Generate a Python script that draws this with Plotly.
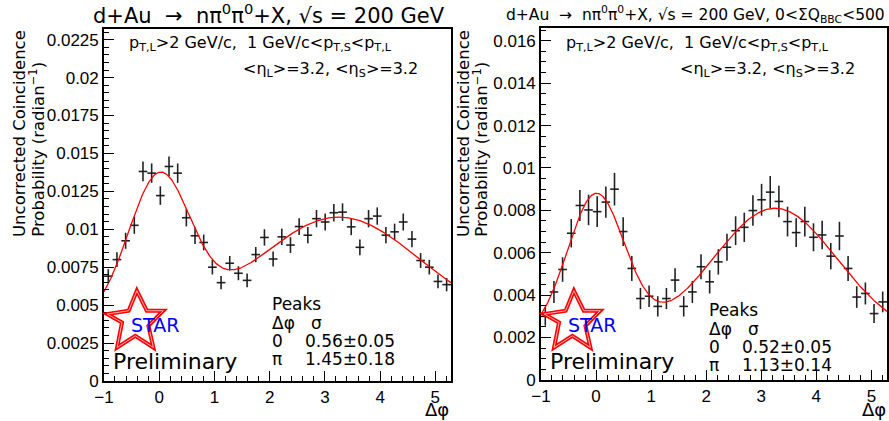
import numpy as np
import plotly.graph_objects as go

W, H = 889, 421
H_MAP = 410.0   # effective pixel height used to place paper-coordinate items
DX_LEFT = -10   # correction for left-anchored text boxes

# ---------------- data ----------------
N_BINS = 40
DPHI_LO, DPHI_HI = -1.0, 2 * np.pi - 1.0
edges = np.linspace(DPHI_LO, DPHI_HI, N_BINS + 1)
dphi = 0.5 * (edges[:-1] + edges[1:])
half_bin = 0.5 * (edges[1] - edges[0])

left_prob = [0.00691, 0.00800, 0.00924, 0.01026, 0.01381, 0.01370, 0.01222, 0.01414,
             0.01370, 0.01076, 0.00957, 0.00913, 0.00750, 0.00648, 0.00776, 0.00710,
             0.00663, 0.00833, 0.00946, 0.00804, 0.00950, 0.00896, 0.01018, 0.00961,
             0.01070, 0.01048, 0.01109, 0.01113, 0.01016, 0.00881, 0.01070, 0.01087,
             0.00961, 0.00983, 0.01048, 0.00935, 0.00794, 0.00750, 0.00656, 0.00635]
left_err = [0.00046, 0.00049, 0.00053, 0.00056, 0.00065, 0.00064, 0.00061, 0.00065,
            0.00064, 0.00057, 0.00054, 0.00052, 0.00048, 0.00044, 0.00048, 0.00046,
            0.00045, 0.00050, 0.00054, 0.00049, 0.00054, 0.00052, 0.00055, 0.00054,
            0.00057, 0.00056, 0.00058, 0.00058, 0.00055, 0.00052, 0.00057, 0.00057,
            0.00054, 0.00054, 0.00056, 0.00053, 0.00049, 0.00048, 0.00045, 0.00044]

right_prob = [0.00300, 0.00415, 0.00521, 0.00692, 0.00823, 0.00802, 0.00794, 0.00839,
              0.00900, 0.00700, 0.00526, 0.00384, 0.00395, 0.00347, 0.00384, 0.00471,
              0.00347, 0.00415, 0.00534, 0.00463, 0.00557, 0.00626, 0.00704, 0.00720,
              0.00799, 0.00850, 0.00886, 0.00842, 0.00747, 0.00695, 0.00747, 0.00673,
              0.00684, 0.00584, 0.00679, 0.00526, 0.00391, 0.00408, 0.00313, 0.00368]
right_err = [0.00044, 0.00052, 0.00058, 0.00067, 0.00073, 0.00072, 0.00072, 0.00074,
             0.00077, 0.00068, 0.00059, 0.00050, 0.00051, 0.00048, 0.00050, 0.00056,
             0.00048, 0.00052, 0.00059, 0.00055, 0.00060, 0.00064, 0.00068, 0.00069,
             0.00072, 0.00075, 0.00076, 0.00074, 0.00070, 0.00068, 0.00070, 0.00066,
             0.00067, 0.00062, 0.00067, 0.00059, 0.00051, 0.00052, 0.00045, 0.00049]

# fit parameters (pedestal + near-side and away-side gaussians)
left_fit = dict(base=0.0039, a_near=0.0093, mu_near=0.0, sig_near=0.56,
                a_away=0.0069, mu_away=3.25, sig_away=1.45)
right_fit = dict(base=0.00203, a_near=0.00668, mu_near=0.0, sig_near=0.52,
                 a_away=0.00607, mu_away=3.25, sig_away=1.13)

left_yticks = [0, 0.0025, 0.005, 0.0075, 0.01, 0.0125, 0.015, 0.0175, 0.02, 0.0225]
left_yticktext = ["0", "0.0025", "0.005", "0.0075", "0.01", "0.0125", "0.015", "0.0175", "0.02", "0.0225"]
right_yticks = [0, 0.002, 0.004, 0.006, 0.008, 0.01, 0.012, 0.014, 0.016]
right_yticktext = ["0", "0.002", "0.004", "0.006", "0.008", "0.01", "0.012", "0.014", "0.016"]
xticks = [-1, 0, 1, 2, 3, 4, 5]
xticktext = ["\u22121", "0", "1", "2", "3", "4", "5"]

left_peaks = [("0", "0.56\u00b10.05"), ("\u03c0", "1.45\u00b10.18")]
right_peaks = [("0", "0.52\u00b10.05"), ("\u03c0", "1.13\u00b10.14")]

# ---------------- helpers ----------------
TXT = "DejaVu Sans"
TICK = "Liberation Sans"


def X(px):
    return px / W


def Y(py):
    return 1 - py / H_MAP


def fitfunc(x, p):
    return (p["base"]
            + p["a_near"] * np.exp(-0.5 * ((x - p["mu_near"]) / p["sig_near"]) ** 2)
            + p["a_away"] * np.exp(-0.5 * ((x - p["mu_away"]) / p["sig_away"]) ** 2))


xfit = np.linspace(DPHI_LO, DPHI_HI, 500)

fig = go.Figure()
for (prob, err, fitp, xa, ya) in [(left_prob, left_err, left_fit, "x", "y"),
                                   (right_prob, right_err, right_fit, "x2", "y2")]:
    fig.add_trace(go.Scatter(
        x=dphi, y=prob, mode="markers", xaxis=xa, yaxis=ya,
        marker=dict(size=1, color="#111"),
        error_y=dict(type="data", array=err, width=0, thickness=1.6, color="#222"),
        error_x=dict(type="constant", value=half_bin, width=0, thickness=1.6, color="#222"),
        showlegend=False, hoverinfo="skip"))
    fig.add_trace(go.Scatter(
        x=xfit, y=fitfunc(xfit, fitp), mode="lines", xaxis=xa, yaxis=ya,
        line=dict(color="red", width=1.3), showlegend=False, hoverinfo="skip"))

axis_common = dict(showline=True, linecolor="black", linewidth=1.5, mirror=True,
                   ticks="inside", ticklen=10, tickwidth=1.2, tickcolor="black",
                   showgrid=False, zeroline=False,
                   tickfont=dict(family=TICK, size=17, color="black"))

xaxis_common = dict(axis_common, range=[DPHI_LO, DPHI_HI], tickmode="array",
                    tickvals=xticks, ticktext=xticktext,
                    minor=dict(ticks="inside", ticklen=5, tickwidth=1, tickcolor="black",
                               tick0=-1, dtick=0.2, showgrid=False))

fig.update_layout(
    width=W, height=H, margin=dict(l=0, r=0, t=0, b=0),
    paper_bgcolor="white", plot_bgcolor="white",
    xaxis=dict(xaxis_common, domain=[X(95), X(446)], anchor="y"),
    yaxis=dict(axis_common, domain=[Y(380), Y(29)], anchor="x", range=[0, 0.0232],
               tickmode="array", tickvals=left_yticks, ticktext=left_yticktext,
               minor=dict(ticks="inside", ticklen=5, tickwidth=1, tickcolor="black",
                          tick0=0, dtick=0.0005, showgrid=False)),
    xaxis2=dict(xaxis_common, domain=[X(537), X(887)], anchor="y2"),
    yaxis2=dict(axis_common, domain=[Y(379), Y(28)], anchor="x2", range=[0, 0.0166],
                tickmode="array", tickvals=right_yticks, ticktext=right_yticktext,
                minor=dict(ticks="inside", ticklen=5, tickwidth=1, tickcolor="black",
                           tick0=0, dtick=0.0005, showgrid=False)),
)

anns = []


def ann(text, px, py, size, xanchor="left", yanchor="middle", color="black",
        family=TXT, angle=0):
    if xanchor == "left" or angle != 0:
        px = px + DX_LEFT
    anns.append(dict(text=text, x=X(px), y=Y(py), xref="paper", yref="paper",
                     xanchor=xanchor, yanchor=yanchor, showarrow=False,
                     textangle=angle, font=dict(family=family, size=size, color=color)))


title_main = "d+Au  \u2192  n\u03c0<sup>0</sup>\u03c0<sup>0</sup>+X, \u221as = 200 GeV"
ann(title_main, 92, 14, 21)
ann(title_main + ", 0&lt;\u03a3Q<sub>BBC</sub>&lt;500", 887, 14, 15.5, xanchor="right")

line1 = ("p<sub>T,L</sub>&gt;2 GeV/c,  1 GeV/c&lt;p<sub>T,S</sub>&lt;p<sub>T,L</sub>")
line2 = "&lt;\u03b7<sub>L</sub>&gt;=3.2, &lt;\u03b7<sub>S</sub>&gt;=3.2"

for off, peaks, pk_y in [(0, left_peaks, 303), (442, right_peaks, 309)]:
    ann(line1, 128 + off, 43, 16)
    ann(line2, 415 + off, 69, 16, xanchor="right")
    ann("Peaks", 273 + off, pk_y, 17)
    ann("\u0394\u03c6", 273 + off, pk_y + 19, 17)
    ann("\u03c3", 312 + off, pk_y + 19, 17)
    for k, (pos, sig) in enumerate(peaks):
        ann(pos, 273 + off, pk_y + 37 + 18 * k, 17)
        ann(sig, 306 + off, pk_y + 37 + 18 * k, 17)
    ann("STAR", 130 + off, 324, 19, color="#0000ff")
    ann("Preliminary", 112 + off, 361, 22)
    ann("\u0394\u03c6", 446 + off, 409, 18, xanchor="right")

# y-axis titles (two lines, rotated)
for x1, x2 in [(19, 37), (468, 486)]:
    ann("Uncorrected Coincidence", x1, 238, 16.5, xanchor="center", yanchor="bottom", angle=-90)
    ann("Probability (radian<sup>\u22121</sup>)", x2, 238, 16.5, xanchor="center",
        yanchor="bottom", angle=-90)

fig.update_layout(annotations=anns)

# STAR logo star outline
star_pts = [(128.3, 290), (138.3, 310), (155, 310), (140, 325), (145, 346.7),
            (126.7, 335), (108.3, 346.7), (113.3, 321.7), (98.3, 313.3), (120, 310)]
shapes = []
for off in [0, 442]:
    path = "M " + " L ".join(f"{X(px + off):.5f},{Y(py):.5f}" for px, py in star_pts) + " Z"
    shapes.append(dict(type="path", path=path, xref="paper", yref="paper",
                       line=dict(color="red", width=4)))
    shapes.append(dict(type="path", path=path, xref="paper", yref="paper",
                       line=dict(color="#ffb0b0", width=1)))
fig.update_layout(shapes=shapes)

fig.write_html("out.html", config={"responsive": False, "displayModeBar": False},
               post_script="document.body.style.margin='0';document.body.style.overflow='hidden';")
